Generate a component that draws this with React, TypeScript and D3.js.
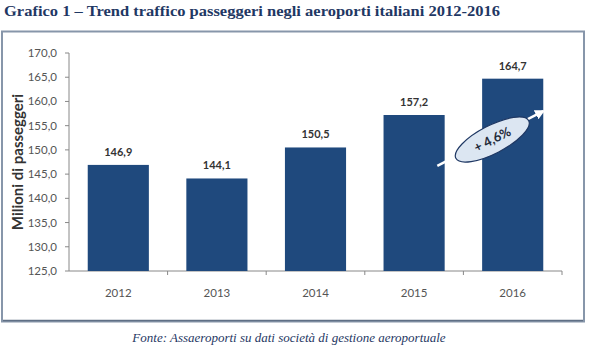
import React from "react";
import * as d3 from "d3";

const years = ["2012", "2013", "2014", "2015", "2016"];
const passengers = [146.9, 144.1, 150.5, 157.2, 164.7];
const yTicks = [125, 130, 135, 140, 145, 150, 155, 160, 165, 170];
const growthLabel = "+ 4,6%";
const titleText = "Grafico 1 – Trend traffico passeggeri negli aeroporti italiani 2012-2016";
const sourceText = "Fonte: Assaeroporti su dati società di gestione aeroportuale";
const yTitle = "Milioni di passeggeri";

const W = 589, H = 347;
const plot = { left: 69, right: 562, top: 53, bottom: 271 };
const fmt = (v: number) => v.toFixed(1).replace(".", ",");

export default function App() {
  const x = d3.scaleBand<string>().domain(years).range([plot.left, plot.right]).paddingInner(0.38).paddingOuter(0.19);
  const y = d3.scaleLinear().domain([125, 170]).range([plot.bottom, plot.top]);
  const step = x.step();
  const bar = "#1f497d";
  const font = "Lato, 'Open Sans', sans-serif";

  const ax1 = x("2015")! + x.bandwidth() * 0.88, ay1 = y(146.7);
  const ax2 = x("2016")! + x.bandwidth() * 1.0, ay2 = y(158);
  const cx = (ax1 + ax2) / 2 + 2, cy = (ay1 + ay2) / 2 + 1;
  const ang = (Math.atan2(ay2 - ay1, ax2 - ax1) * 180) / Math.PI;

  return (
    <svg width={W} height={H} style={{ position: "absolute", left: 0, top: 0, background: "#fff" }}>
      <defs>
        <marker id="ah" viewBox="0 0 10 10" refX="8" refY="5" markerWidth="4" markerHeight="4" orient="auto">
          <path d="M0,0 L10,5 L0,10 z" fill="#fff" />
        </marker>
      </defs>
      <text x={4} y={16} fontFamily="'Liberation Serif', serif" fontWeight="bold" fontSize={15} fill="#1f3864" textLength={496} lengthAdjust="spacingAndGlyphs">{titleText}</text>
      <rect x={2} y={31.5} width={582} height={290} fill="#fff" stroke="#8796aa" strokeWidth={2} />
      <line x1={3} x2={583} y1={320.5} y2={320.5} stroke="#5f6f85" strokeWidth={1.5} />

      <line x1={plot.left} x2={plot.left} y1={plot.top} y2={plot.bottom} stroke="#888" />
      {yTicks.map((t) => (
        <g key={t}>
          <line x1={plot.left - 4} x2={plot.left} y1={y(t)} y2={y(t)} stroke="#888" />
          <text x={plot.left - 12} y={y(t)} dy="0.35em" textAnchor="end" fontFamily={font} fontSize={11.5} fill="#555">{fmt(t)}</text>
        </g>
      ))}
      <text transform={`translate(18,${(plot.top + plot.bottom) / 2}) rotate(-90)`} textAnchor="middle" dy="0.35em" fontFamily={font} fontWeight="bold" fontSize={15} fill="#333">{yTitle}</text>

      <line x1={plot.left} x2={plot.right} y1={plot.bottom} y2={plot.bottom} stroke="#888" />
      {years.map((yr, i) => (
        <line key={yr} x1={plot.left + step * (i + 1)} x2={plot.left + step * (i + 1)} y1={plot.bottom} y2={plot.bottom + 4} stroke="#888" />
      ))}
      {years.map((yr) => (
        <text key={yr} x={x(yr)! + x.bandwidth() / 2} y={293} dy="0.35em" textAnchor="middle" fontFamily={font} fontSize={11.5} fill="#555">{yr}</text>
      ))}

      {years.map((yr, i) => (
        <g key={yr}>
          <rect x={x(yr)} y={y(passengers[i])} width={x.bandwidth()} height={plot.bottom - y(passengers[i])} fill={bar} />
          <text x={x(yr)! + x.bandwidth() / 2} y={y(passengers[i]) - 9} textAnchor="middle" fontFamily={font} fontWeight="bold" fontSize={11} fill="#333">{fmt(passengers[i])}</text>
        </g>
      ))}

      <line x1={ax1} y1={ay1} x2={ax2} y2={ay2} stroke="#fff" strokeWidth={2.5} markerEnd="url(#ah)" />
      <g transform={`translate(${cx},${cy}) rotate(${ang})`}>
        <ellipse rx={41} ry={14} fill="#dce6f2" stroke="#1f3864" strokeWidth={1.2} />
        <text textAnchor="middle" dy="0.35em" fontFamily={font} fontWeight="bold" fontSize={13} fill="#1f2a3a">{growthLabel}</text>
      </g>

      <text x={289} y={342} textAnchor="middle" fontFamily="'Liberation Serif', serif" fontStyle="italic" fontSize={13} fill="#1f3864">{sourceText}</text>
    </svg>
  );
}
